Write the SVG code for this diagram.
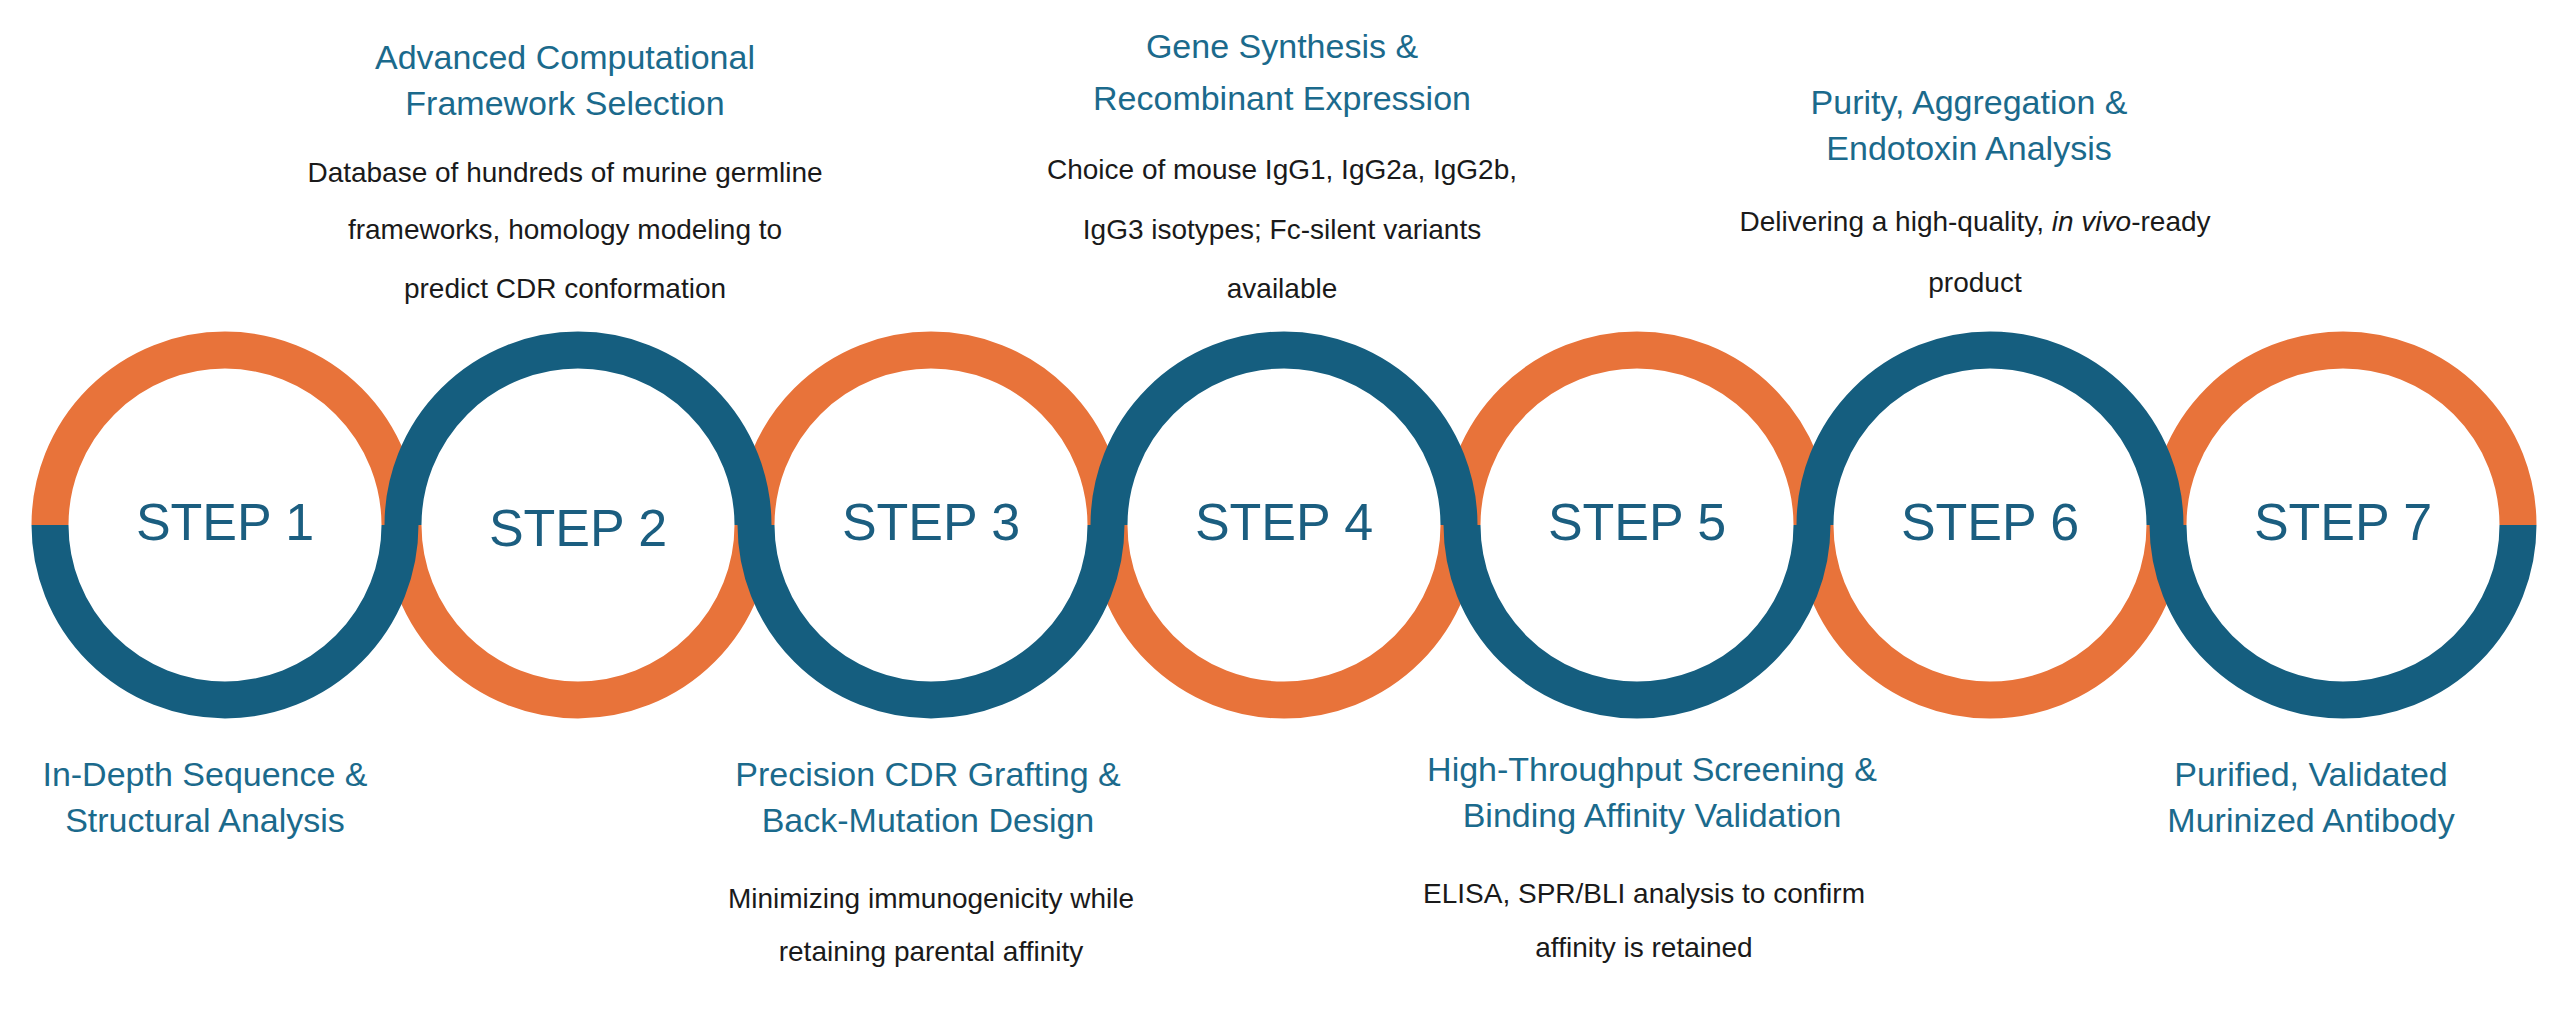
<svg xmlns="http://www.w3.org/2000/svg" width="2570" height="1010" viewBox="0 0 2570 1010">
<style>
.o{fill:none;stroke:#E8733A;stroke-width:37}
.b{fill:none;stroke:#155E7F;stroke-width:37}
.st{font-family:"Liberation Sans",Arial,sans-serif;font-size:52px;fill:#1B5E80;text-anchor:middle}
.t{font-family:"Liberation Sans",Arial,sans-serif;font-size:34px;fill:#1B6A8C;text-anchor:middle}
.d{font-family:"Liberation Sans",Arial,sans-serif;font-size:28px;fill:#1a1a1a;text-anchor:middle}
</style>
<rect width="2570" height="1010" fill="#fff"/>
<g id="rings">
<path class="o" d="M50,525 A175,175 0 0 1 400,525"/>
<path class="o" d="M403,525 A175,175 0 0 0 753,525"/>
<path class="o" d="M756,525 A175,175 0 0 1 1106,525"/>
<path class="o" d="M1109,525 A175,175 0 0 0 1459,525"/>
<path class="o" d="M1462,525 A175,175 0 0 1 1812,525"/>
<path class="o" d="M1815,525 A175,175 0 0 0 2165,525"/>
<path class="o" d="M2168,525 A175,175 0 0 1 2518,525"/>
<path class="b" d="M50,525 A175,175 0 0 0 400,525"/>
<path class="b" d="M403,525 A175,175 0 0 1 753,525"/>
<path class="b" d="M756,525 A175,175 0 0 0 1106,525"/>
<path class="b" d="M1109,525 A175,175 0 0 1 1459,525"/>
<path class="b" d="M1462,525 A175,175 0 0 0 1812,525"/>
<path class="b" d="M1815,525 A175,175 0 0 1 2165,525"/>
<path class="b" d="M2168,525 A175,175 0 0 0 2518,525"/>
</g>
<g id="step1"><text class="st" x="225" y="540">STEP 1</text>
<text class="t" x="205" y="786">In-Depth Sequence &amp;</text><text class="t" x="205" y="832">Structural Analysis</text></g>
<g id="step2"><text class="st" x="578" y="546">STEP 2</text>
<text class="t" x="565" y="69">Advanced Computational</text><text class="t" x="565" y="115">Framework Selection</text>
<text class="d" x="565" y="182">Database of hundreds of murine germline</text><text class="d" x="565" y="239">frameworks, homology modeling to</text><text class="d" x="565" y="298">predict CDR conformation</text></g>
<g id="step3"><text class="st" x="931" y="540">STEP 3</text>
<text class="t" x="928" y="786">Precision CDR Grafting &amp;</text><text class="t" x="928" y="832">Back-Mutation Design</text>
<text class="d" x="931" y="908">Minimizing immunogenicity while</text><text class="d" x="931" y="961">retaining parental affinity</text></g>
<g id="step4"><text class="st" x="1284" y="540">STEP 4</text>
<text class="t" x="1282" y="58">Gene Synthesis &amp;</text><text class="t" x="1282" y="110">Recombinant Expression</text>
<text class="d" x="1282" y="179">Choice of mouse IgG1, IgG2a, IgG2b,</text><text class="d" x="1282" y="239">IgG3 isotypes; Fc-silent variants</text><text class="d" x="1282" y="298">available</text></g>
<g id="step5"><text class="st" x="1637" y="540">STEP 5</text>
<text class="t" x="1652" y="781">High-Throughput Screening &amp;</text><text class="t" x="1652" y="827">Binding Affinity Validation</text>
<text class="d" x="1644" y="903">ELISA, SPR/BLI analysis to confirm</text><text class="d" x="1644" y="957">affinity is retained</text></g>
<g id="step6"><text class="st" x="1990" y="540">STEP 6</text>
<text class="t" x="1969" y="114">Purity, Aggregation &amp;</text><text class="t" x="1969" y="160">Endotoxin Analysis</text>
<text class="d" x="1975" y="231">Delivering a high-quality, <tspan font-style="italic">in vivo</tspan>-ready</text><text class="d" x="1975" y="292">product</text></g>
<g id="step7"><text class="st" x="2343" y="540">STEP 7</text>
<text class="t" x="2311" y="786">Purified, Validated</text><text class="t" x="2311" y="832">Murinized Antibody</text></g>
</svg>
